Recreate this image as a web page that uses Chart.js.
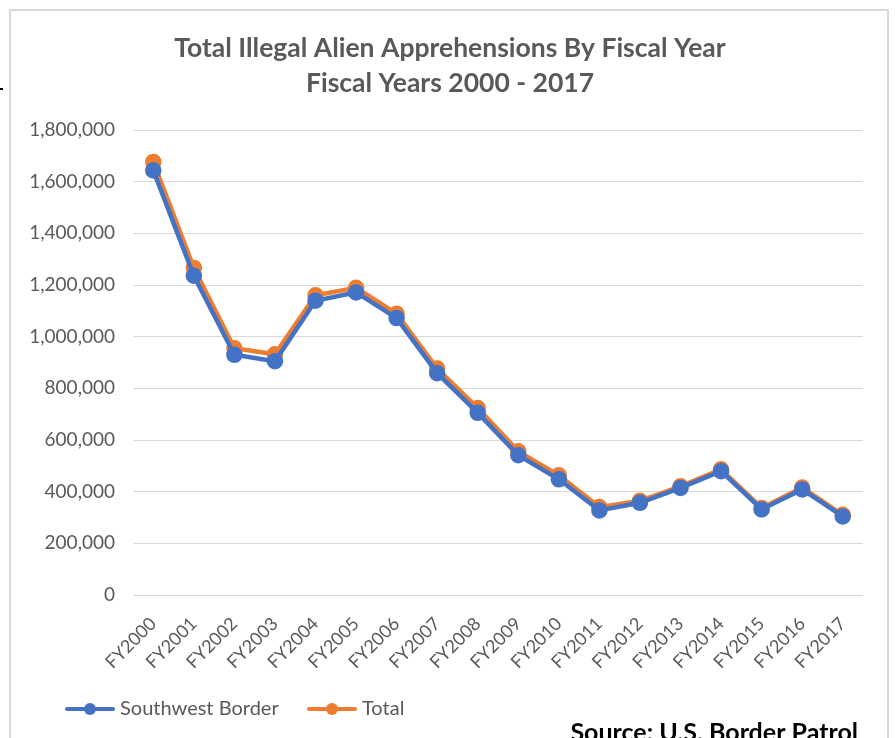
<!DOCTYPE html>
<html>
<head>
<meta charset="utf-8">
<script src="https://cdn.jsdelivr.net/npm/chart.js@4.4.1/dist/chart.umd.min.js"></script>
<style>
  html, body { margin: 0; padding: 0; background: #fff; }
  #wrap { position: relative; width: 895px; height: 738px; overflow: hidden; }
  canvas { display: block; }
</style>
</head>
<body>
<div id="wrap"><canvas id="c" width="895" height="738"></canvas></div>
<script>
const categories = ["FY2000","FY2001","FY2002","FY2003","FY2004","FY2005","FY2006","FY2007","FY2008","FY2009","FY2010","FY2011","FY2012","FY2013","FY2014","FY2015","FY2016","FY2017"];
const southwestBorder = [1643679,1235718,929809,905065,1139282,1171396,1071972,858638,705005,540865,447731,327577,356873,414397,479371,331333,408870,303916];
const total = [1676438,1266214,955310,931557,1160395,1189075,1089092,876704,723825,556041,463382,340252,364768,420789,486651,337117,415816,310531];
const seriesNames = ["Southwest Border", "Total"];
const titleLines = ["Total Illegal Alien Apprehensions By Fiscal Year", "Fiscal Years 2000 - 2017"];
const sourceText = "Source: U.S. Border Patrol";

const BLUE = "#4472C4", ORANGE = "#ED7D31", GRAY = "#595959";
const FONT = "Lato, 'Open Sans', sans-serif";

const decor = {
  id: "decor",
  beforeDraw(chart) {
    const ctx = chart.ctx;
    ctx.save();
    ctx.fillStyle = "#fff";
    ctx.fillRect(0, 0, chart.width, chart.height);
    ctx.strokeStyle = "#d9d9d9";
    ctx.lineWidth = 2;
    ctx.strokeRect(10, 10, 878, 760);
    ctx.fillStyle = "#000";
    ctx.fillRect(0, 88, 3, 2);
    ctx.restore();
  },
  afterDraw(chart) {
    const ctx = chart.ctx;
    ctx.save();
    // title
    ctx.fillStyle = GRAY;
    ctx.font = "bold 26.5px " + FONT;
    ctx.textAlign = "center";
    ctx.textBaseline = "alphabetic";
    ctx.fillText(titleLines[0], 450, 57);
    ctx.fillText(titleLines[1], 450, 92);
    // legend
    const items = [
      { name: seriesNames[0], color: BLUE, x: 65 },
      { name: seriesNames[1], color: ORANGE, x: 307 }
    ];
    const ly = 709;
    items.forEach(it => {
      ctx.strokeStyle = it.color;
      ctx.lineWidth = 4;
      ctx.lineCap = "round";
      ctx.beginPath();
      ctx.moveTo(it.x + 2, ly);
      ctx.lineTo(it.x + 48, ly);
      ctx.stroke();
      ctx.fillStyle = it.color;
      ctx.beginPath();
      ctx.arc(it.x + 25, ly, 6, 0, Math.PI * 2);
      ctx.fill();
      ctx.fillStyle = GRAY;
      ctx.font = "20px " + FONT;
      ctx.textAlign = "left";
      ctx.textBaseline = "middle";
      ctx.fillText(it.name, it.x + 55, ly);
    });
    // source
    ctx.fillStyle = "#000";
    ctx.font = "bold 25px " + FONT;
    ctx.textAlign = "right";
    ctx.textBaseline = "alphabetic";
    ctx.fillText(sourceText, 858, 741);
    ctx.restore();
  }
};

new Chart(document.getElementById("c"), {
  type: "line",
  data: {
    labels: categories,
    datasets: [
      { label: seriesNames[0], data: southwestBorder, borderColor: BLUE, backgroundColor: BLUE,
        borderWidth: 4.5, pointRadius: 6, pointHoverRadius: 6, pointBackgroundColor: BLUE, pointBorderColor: BLUE, tension: 0 },
      { label: seriesNames[1], data: total, borderColor: ORANGE, backgroundColor: ORANGE,
        borderWidth: 4.5, pointRadius: 6, pointHoverRadius: 6, pointBackgroundColor: ORANGE, pointBorderColor: ORANGE, tension: 0 }
    ]
  },
  options: {
    responsive: false,
    animation: false,
    devicePixelRatio: 1,
    layout: { padding: { top: 130, right: 32, left: 0, bottom: 0 } },
    plugins: { legend: { display: false }, title: { display: false }, tooltip: { enabled: false } },
    scales: {
      x: {
        offset: true,
        grid: { display: false, drawTicks: false },
        border: { display: false },
        ticks: { color: GRAY, font: { family: FONT, size: 18 }, minRotation: 45, maxRotation: 45, padding: 18, autoSkip: false },
        afterFit(s) { s.height = 143; }
      },
      y: {
        min: 0, max: 1800000,
        grid: { color: "#d9d9d9", lineWidth: 1, drawTicks: false },
        border: { display: false },
        ticks: { stepSize: 200000, color: GRAY, font: { family: FONT, size: 19 }, padding: 18,
          callback: v => v.toLocaleString("en-US") },
        afterFit(s) { s.width = 133; }
      }
    }
  },
  plugins: [decor]
});
</script>
</body>
</html>
